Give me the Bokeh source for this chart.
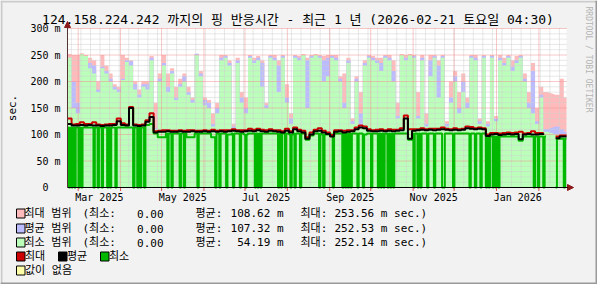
import math
import pandas as pd
from bokeh.plotting import figure
from bokeh.models import Range1d, Arrow, NormalHead, ColumnDataSource
from bokeh.core.properties import value
from bokeh.embed import file_html
from bokeh.resources import INLINE

nan = float("nan")

# ---------------- data ----------------
title_text = "124.158.224.242 까지의 핑 반응시간 - 최근 1 년 (2026-02-21 토요일 04:30)"
y_axis_title = "sec."
start = pd.Timestamp("2025-02-21 04:30")
end = pd.Timestamp("2026-02-21 04:30")
STEP_DAYS = 3  # one area / line sample every 3 days

# top of "최대 범위" area (ms)
max_range = [252, 250, 250, 253.5, 250, 245, 240, 200, 250, 230,
             215, 195, 190, 250, 245, 240, 200, 185, 200, 200,
             248, 160, 215, 250, 215, 225, 190, 205, 215, 190,
             170, 252, 220, 170, 165, 140, 160, 250, 250, 240,
             120, 245, 180, 170, 250, 245, 248, 240, 160, 250,
             250, 240, 250, 195, 140, 250, 248, 252, 245, 250,
             252, 250, 248, 250, 250, 250, 210, 215, 245, 130,
             210, 180, 240, 250, 248, 245, 245, 250, 250, 240,
             160, 252, 250, 252, 250, 180, 250, 140, 250, 250,
             240, 250, 125, 200, 220, 180, 215, 170, 250, 250,
             130, 250, 125, 250, 135, 250, 245, 250, 240, 248,
             250, 215, 180, 235, 150, 190, 180, nan, nan, 175,
             205, 170]
# top of "평균 범위" area (ms)
avg_range = [245, 200, 160, 250, 248, 235, 230, 185, 228, 220,
             205, 190, 185, 205, 240, 238, 195, 175, 195, 195,
             245, 112, 205, 235, 190, 220, 170, 195, 210, 180,
             165, 252.5, 215, 165, 160, 120, 150, 245, 248, 235,
             115, 240, 170, 150, 248, 240, 245, 235, 155, 248,
             245, 230, 248, 170, 130, 248, 245, 250, 240, 248,
             250, 248, 240, 245, 248, 245, 205, 160, 240, 125,
             205, 140, 235, 248, 245, 240, 235, 248, 245, 220,
             135, 250, 245, 250, 248, 135, 245, 120, 240, 248,
             230, 248, 120, 170, 210, 150, 200, 160, 248, 245,
             125, 248, 120, 248, 130, 245, 235, 248, 228, 240,
             248, 205, 160, 220, 125, 175, 110, nan, nan, 115,
             110, 105]
# top of "최소 범위" area (ms)
min_range = [245, 150, 140, 252, 248, 225, 215, 180, 225, 215,
             200, 185, 180, 203, 237, 230, 185, 170, 190, 185,
             240, 110, 200, 230, 180, 215, 165, 190, 200, 175,
             160, 250, 210, 155, 150, 115, 140, 240, 245, 230,
             110, 235, 160, 140, 245, 235, 240, 190, 150, 245,
             240, 180, 245, 160, 120, 245, 240, 250, 150, 245,
             250, 245, 200, 210, 245, 240, 200, 150, 235, 120,
             200, 115, 230, 245, 240, 235, 220, 245, 240, 200,
             130, 250, 240, 250, 245, 130, 240, 115, 210, 245,
             170, 245, 115, 160, 200, 140, 180, 150, 245, 240,
             120, 245, 115, 245, 125, 240, 230, 245, 220, 235,
             245, 200, 150, 140, 120, 170, 105, nan, nan, 100,
             100, 100]
# "최대" line (ms)
max_line = [130, 119, 120, 123, 120, 120, 123, 119, 118, 119,
            120, 120, 130, 121, 119, 152, 119, 118, 119, 127,
            140, 106, 107, 108, 108, 107, 107, 108, 107, 108,
            108, 107, 107, 108, 107, 109, 107, 108, 108, 108,
            110, 108, 108, 108, 111, 109, 111, 109, 108, 110,
            108, 108, 106, 111, 106, 113, 109, 107, 95, 104,
            109, 112, 107, 104, 99, 108, 108, 107, 108, 108,
            113, 117, 115, 110, 108, 109, 110, 108, 110, 109,
            109, 112, 136, 110, 110, 110, 112, 110, 111, 111,
            111, 113, 111, 110, 112, 110, 111, 115, 114, 112,
            113, 112, 100, 103, 103, 102, 103, 104, 103, 104,
            105, 102, 103, 106, 103, 103, 102, nan, nan, 96,
            98, 98]
# "평균" line (ms)
avg_line = [120, 117, 117, 118, 117, 118, 117, 117, 116, 117,
            117, 118, 125, 118, 117, 150, 117, 116, 117, 124,
            133, 104, 105, 105, 106, 105, 105, 106, 105, 105,
            106, 105, 105, 106, 105, 106, 105, 106, 105, 106,
            107, 106, 105, 106, 107, 106, 108, 106, 105, 107,
            106, 105, 104, 107, 104, 110, 106, 104, 92, 100,
            106, 107, 104, 101, 96, 105, 106, 104, 105, 106,
            110, 113, 112, 107, 106, 106, 107, 106, 107, 106,
            107, 108, 130, 92, 107, 108, 109, 108, 109, 108,
            109, 110, 109, 108, 109, 108, 109, 112, 111, 110,
            111, 110, 97, 100, 101, 99, 100, 101, 100, 101,
            91, 100, 101, 100, 100, 101, 99, nan, nan, 93,
            96, 96]
# "최소" line: level per 3-day sample (ms) ...
min_line = [113, 113, 113, 113, 113, 113, 113, 113, 113, 113,
            113, 113, 113, 113, 113, 113, 113, 113, 113, 118,
            120, 102, 95, 95, 102, 102, 102, 102, 102, 95,
            95, 102, 102, 102, 102, 95, 102, 102, 102, 100,
            102, 102, 102, 100, 102, 102, 102, 102, 102, 102,
            102, 102, 102, 102, 100, 102, 102, 102, 90, 98,
            102, 102, 100, 100, 100, 102, 102, 102, 102, 102,
            102, 102, 100, 102, 102, 102, 102, 102, 102, 102,
            102, 102, 102, 90, 102, 102, 102, 102, 102, 102,
            102, 102, 102, 102, 102, 102, 102, 102, 102, 102,
            102, 102, 97, 96, 96, 96, 96, 96, 96, 96,
            88, 96, 96, 96, 96, 96, 96, nan, nan, 92,
            92, 92]
# ... and the days (since the start) on which it fell to 0
min_zero_days = [1, 3, 5, 8, 10, 19, 22, 25, 29, 31, 35, 48, 51, 53, 56, 73, 76,
                 82, 85, 95, 108, 111, 116, 121, 126, 130, 137, 139, 141, 154,
                 156, 159, 163, 166, 170, 184, 187, 194, 201, 203, 205, 207, 212,
                 216, 222, 227, 229, 231, 234, 236, 238, 253, 256, 258, 263, 268,
                 274, 275, 282, 294, 298, 302, 306, 308, 311, 313, 315, 341, 344,
                 348, 357, 363]

month_labels = ["Mar 2025", "May 2025", "Jul 2025", "Sep 2025", "Nov 2025", "Jan 2026"]
label_months = ["2025-03-01", "2025-05-01", "2025-07-01", "2025-09-01", "2025-11-01", "2026-01-01"]
month_starts = ["2025-03-01", "2025-04-01", "2025-05-01", "2025-06-01", "2025-07-01",
                "2025-08-01", "2025-09-01", "2025-10-01", "2025-11-01", "2025-12-01",
                "2026-01-01", "2026-02-01"]
y_ticks = [0, 50, 100, 150, 200, 250, 300]
y_tick_labels = ["0\u00a0\u00a0", "50 m", "100 m", "150 m", "200 m", "250 m", "300 m"]

legend_names = ["최대 범위", "평균 범위", "최소 범위"]
legend_colors = ["#FFBBBB", "#BBBBFF", "#BBFFBB"]
stat_min = ["0.00", "0.00", "0.00"]
stat_avg = ["108.62 m", "107.32 m", "54.19 m"]
stat_max = ["253.56 m sec.)", "252.53 m sec.)", "252.14 m sec.)"]
line_names = ["최대", "평균", "최소"]
line_colors = ["#CC0000", "#000000", "#00B800"]
unknown_name = "값이 없음"
unknown_color = "#FFFFAA"
watermark = "RRDTOOL / TOBI OETIKER"

# ---------------- scales ----------------
DAY = pd.Timedelta(days=1)
span_days = (end - start) / DAY
Y_MAX = 300

W, H = 597, 284
PL, PR, PT, PB = 67, 566, 28, 187          # plot area in canvas pixels
kx = span_days / (PR - PL)                  # days per pixel
ky = Y_MAX / (PB - PT)                      # ms per pixel


def px2x(px):
    return (px - PL) * kx


def px2y(py):
    return (PB - py) * ky


def day_of(s):
    return (pd.Timestamp(s) - start) / DAY


n = len(max_range)
xs = [i * STEP_DAYS for i in range(n)] + [span_days]


def ext(a):
    return list(a) + [a[-1]]


zero_set = set(min_zero_days)
min_x, min_y = [], []
for d in range(n * STEP_DAYS):
    if d >= span_days:
        break
    min_x.append(d)
    min_y.append(0 if d in zero_set else min_line[d // STEP_DAYS])
min_x.append(span_days)
min_y.append(min_y[-1])

month_pos = [day_of(s) for s in month_starts]
label_pos = []
for s in label_months:
    a = pd.Timestamp(s)
    b = a + pd.offsets.MonthBegin(1)
    label_pos.append(((a - start) + (b - a) / 2) / DAY)
mondays = pd.date_range("2025-02-24", "2026-02-20", freq="7D")
week_pos = [day_of(d) for d in mondays]

FONT = "DejaVu Sans Mono, Noto Sans CJK KR"
BG = "#F2F2F2"

p = figure(width=W, height=H, output_backend="svg", toolbar_location=None,
           x_range=Range1d(px2x(0), px2x(W)), y_range=Range1d(px2y(H), px2y(0)),
           x_axis_location=None, y_axis_location=None, title=None,
           min_border=0, background_fill_color=BG, border_fill_color=BG,
           outline_line_color=None)
p.grid.visible = False

# canvas
p.quad(left=0, right=span_days, bottom=0, top=Y_MAX, fill_color="white", line_color=None)

# areas
p.varea_step(x=xs, y1=0, y2=ext(max_range), step_mode="after", fill_color="#FFBBBB")
p.varea_step(x=xs, y1=0, y2=ext(avg_range), step_mode="after", fill_color="#BBBBFF")
p.varea_step(x=xs, y1=0, y2=ext(min_range), step_mode="after", fill_color="#BBFFBB")

# grid
y_minor = [v for v in range(10, Y_MAX, 10) if v % 50]
y_major = [v for v in range(50, Y_MAX + 1, 50)]
GRID_MINOR, GRID_MAJOR = "#CFCFCF", "#F09090"
p.segment(x0=0, x1=span_days, y0=y_minor, y1=y_minor, line_color=GRID_MINOR,
          line_dash="1 1", line_width=1)
p.segment(x0=week_pos, x1=week_pos, y0=0, y1=Y_MAX, line_color=GRID_MINOR,
          line_dash="1 1", line_width=1)
p.segment(x0=0, x1=span_days, y0=y_major, y1=y_major, line_color=GRID_MAJOR,
          line_dash="1 1", line_width=1)
p.segment(x0=month_pos, x1=month_pos, y0=0, y1=Y_MAX, line_color=GRID_MAJOR,
          line_dash="1 1", line_width=1)

# lines
p.step(x=min_x, y=min_y, mode="after", line_color="#00B800", line_width=2)
p.step(x=xs, y=ext(max_line), mode="after", line_color="#CC0000", line_width=2)
p.step(x=xs, y=ext(avg_line), mode="after", line_color="#000000", line_width=2)

# axes with arrows
ARROW = "#8B1A1A"
p.add_layout(Arrow(end=NormalHead(size=6, fill_color=ARROW, line_color=ARROW),
                   x_start=0, y_start=0, x_end=px2x(573), y_end=0,
                   line_color="#000000", line_width=1))
p.add_layout(Arrow(end=NormalHead(size=6, fill_color=ARROW, line_color=ARROW),
                   x_start=0, y_start=0, x_end=0, y_end=px2y(21),
                   line_color="#553333", line_width=1))
p.segment(x0=month_pos, x1=month_pos, y0=0, y1=px2y(PB + 3.5), line_color="#E05050",
          line_width=1)

# tick labels
p.text(x=label_pos, y=px2y(197), text=month_labels, text_align="center",
       text_baseline="middle", text_font=value(FONT), text_font_size="10px",
       text_color="#000000")
p.text(x=px2x(60), y=y_ticks, text=y_tick_labels, text_align="right",
       text_baseline="middle", text_font=value(FONT), text_font_size="10px",
       text_color="#000000")
p.text(x=px2x(12), y=Y_MAX / 2, text=[y_axis_title], angle=math.pi / 2,
       text_align="center", text_baseline="middle", text_font=value(FONT),
       text_font_size="11px", text_color="#000000")

# title and watermark
p.text(x=px2x(297.5), y=px2y(19), text=[title_text], text_align="center",
       text_baseline="middle", text_font=value(FONT), text_font_size="13px",
       text_color="#000000")
p.text(x=px2x(588), y=px2y(59), text=[watermark], angle=-math.pi / 2,
       text_align="center", text_baseline="middle",
       text_font=value("DejaVu Sans Mono"), text_font_size="8px", text_color="#B4B4B4")

# legend
rows_y = [213, 228, 242, 256, 270]
tx, ty, tt, ta = [], [], [], []
bl, br, bt, bb, bc = [], [], [], [], []


def put(cx, cy, t, a="left"):
    tx.append(px2x(cx)); ty.append(px2y(cy)); tt.append(t); ta.append(a)


def box(cx, cy, c):
    bl.append(px2x(cx)); br.append(px2x(cx + 8.5))
    bt.append(px2y(cy - 4.5)); bb.append(px2y(cy + 4.5)); bc.append(c)


for i in range(3):
    cy = rows_y[i]
    box(16, cy, legend_colors[i])
    put(24, cy, legend_names[i])
    put(82, cy, "(최소:")
    put(163, cy, stat_min[i], "right")
    put(195, cy, "평균:")
    put(283, cy, stat_avg[i], "right")
    put(300, cy, "최대:")
    put(334, cy, stat_max[i])
for j, cx in enumerate([16, 58, 100]):
    box(cx, rows_y[3], line_colors[j])
    put(cx + 8.5, rows_y[3], line_names[j])
box(16, rows_y[4], unknown_color)
put(24.5, rows_y[4], unknown_name)

p.quad(left="l", right="r", top="t", bottom="b", fill_color="c", line_color="#000000",
       line_width=1, source=ColumnDataSource(dict(l=bl, r=br, t=bt, b=bb, c=bc)))
p.text(x="x", y="y", text="t", text_align="a", text_baseline="middle",
       text_font=value(FONT), text_font_size="11px", text_color="#000000",
       source=ColumnDataSource(dict(x=tx, y=ty, t=tt, a=ta)))

# 3-D frame shading
p.quad(left=[px2x(0), px2x(0)], right=[px2x(W), px2x(2)],
       top=[px2y(0), px2y(0)], bottom=[px2y(2), px2y(H)],
       fill_color="#CBCBCB", line_color=None)
p.quad(left=[px2x(0), px2x(W - 2)], right=[px2x(W), px2x(W)],
       top=[px2y(H - 2), px2y(0)], bottom=[px2y(H), px2y(H)],
       fill_color="#999999", line_color=None)

open("out.html", "w").write(file_html(p, INLINE))
